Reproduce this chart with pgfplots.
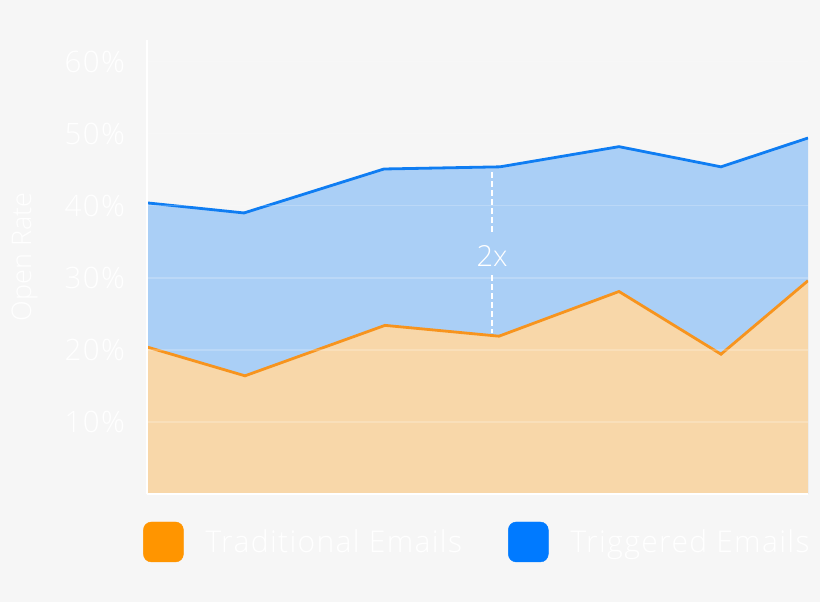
\documentclass[border=0pt]{standalone}
\usepackage{fontspec}
\setmainfont{Open Sans Light}
\newfontfamily\widefont{Open Sans Light}[LetterSpace=4.5]
\usepackage{pgfplots}
\pgfplotsset{compat=1.18}
\definecolor{bg}{HTML}{F6F6F6}
\definecolor{bluefill}{HTML}{AACFF6}
\definecolor{orangefill}{HTML}{F8D7A9}
\definecolor{blueline}{HTML}{0F7DF2}
\definecolor{orangeline}{HTML}{F7941E}
\definecolor{legorange}{HTML}{FF9500}
\definecolor{legblue}{HTML}{007AFF}
\begin{document}
\begin{tikzpicture}[x=1pt,y=1pt]
\useasboundingbox (0,0) rectangle (820,602);
\fill[bg] (0,0) rectangle (820,602);
\begin{axis}[
  at={(147pt,108pt)}, anchor=south west,
  scale only axis, width=661pt, height=454pt,
  xmin=147, xmax=808, ymin=0, ymax=63,
  axis x line=bottom, axis y line=left,
  axis line style={white, line width=1.5pt, -},
  axis on top,
  xtick=\empty,
  ytick={10,20,30,40,50,60},
  yticklabels={10\%,20\%,30\%,40\%,50\%,60\%},
  major tick length=0pt,
  yticklabel style={white, font=\widefont\fontsize{29.5}{29.5}\selectfont, anchor=east, inner sep=0pt, xshift=-22pt},
  ymajorgrids,
  grid style={white, opacity=0.2, line width=1.5pt},
  ylabel={Open Rate},
  ylabel style={white, font=\fontsize{27}{27}\selectfont, at={(axis description cs:-0.1853,0.522)}, anchor=center},
  legend columns=2,
  legend style={at={(axis description cs:-0.006,-0.1057)}, anchor=west, draw=none, fill=none,
    font=\widefont\fontsize{30}{30}\selectfont, text=white, inner sep=0pt,
    nodes={inner sep=0pt},
    /tikz/every odd column/.append style={column sep=22pt},
    /tikz/every even column/.append style={column sep=46pt}},
]
\addplot[draw=none, fill=bluefill, forget plot] coordinates {
 (147,40.4) (244,39.0) (384,45.1) (500,45.4) (619,48.2) (721,45.4) (808,49.4)
} \closedcycle;
\addplot[draw=none, fill=orangefill, forget plot] coordinates {
 (147,20.4) (245,16.4) (385,23.4) (499,21.9) (619,28.1) (721,19.4) (808,29.6)
} \closedcycle;
\addplot[blueline, line width=2.8pt, forget plot] coordinates {
 (147,40.4) (244,39.0) (384,45.1) (500,45.4) (619,48.2) (721,45.4) (808,49.4)
};
\addplot[orangeline, line width=2.8pt, forget plot] coordinates {
 (147,20.4) (245,16.4) (385,23.4) (499,21.9) (619,28.1) (721,19.4) (808,29.6)
};
\addlegendimage{legend image code/.code={\fill[legorange, rounded corners=8pt] (0pt,-20pt) rectangle (40pt,20pt);}}
\addlegendentry{Traditional Emails}
\addlegendimage{legend image code/.code={\fill[legblue, rounded corners=8pt] (0pt,-20pt) rectangle (40pt,20pt);}}
\addlegendentry{Triggered Emails}
\draw[white, line width=1.5pt, dash pattern=on 6pt off 3pt] (axis cs:492,44.7) -- (axis cs:492,36.4);
\draw[white, line width=1.5pt, dash pattern=on 6pt off 3pt] (axis cs:492,30.4) -- (axis cs:492,22.4);
\node[white, font=\fontsize{29}{29}\selectfont] at (axis cs:492,33.05) {2x};
\end{axis}
\end{tikzpicture}
\end{document}
